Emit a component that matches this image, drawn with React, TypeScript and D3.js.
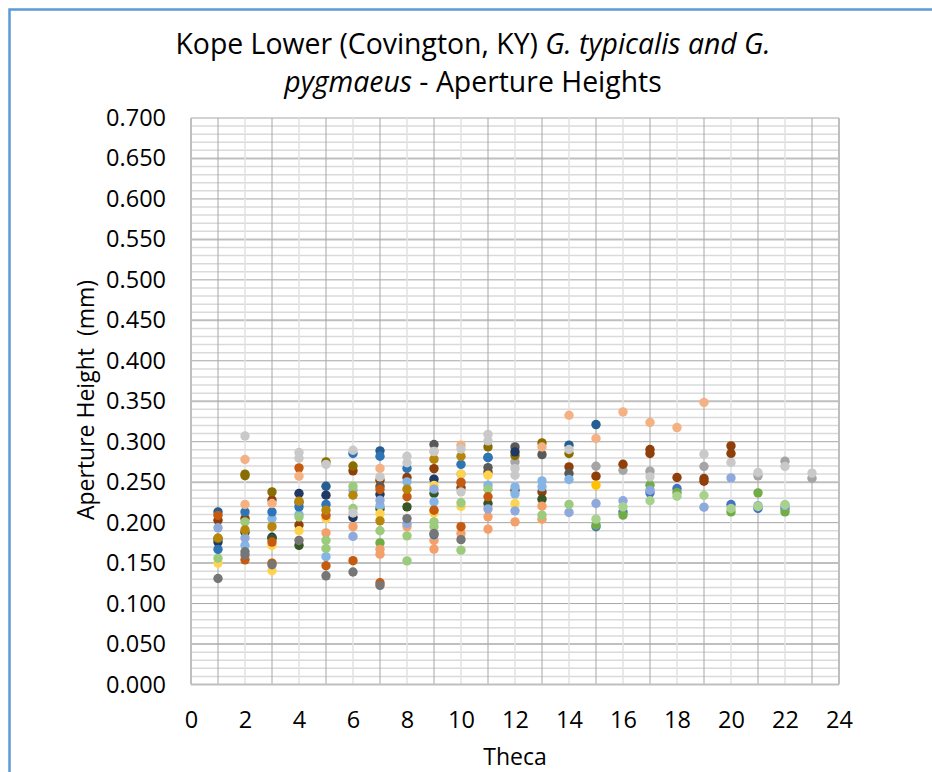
import { useEffect, useRef } from "react"
import * as d3 from "d3"

type Pt = [number, number]

// [theca, aperture height], grouped by marker colour. Paint order is seriesList order.
const royal: Pt[] = [[15,.195],[16,.2133],[17,.2368],[18,.2422],[20,.2224],[21,.2175],[22,.2175]]
const green: Pt[] = [[7,.175],[15,.197],[16,.2093],[17,.2463],[18,.2373],[20,.2133],[21,.2368],[22,.2133]]
const midGray: Pt[] = [[12,.275],[15,.2697],[16,.2648],[17,.2636],[19,.2694],[21,.2578],[22,.2759],[23,.2549]]
const deepBlue: Pt[] = [[1,.2133],[5,.245],[7,.2887],[11,.2805],[14,.2957],[15,.3212]]
const brown: Pt[] = [[1,.203],[2,.205],[3,.228],[4,.197],[6,.264],[7,.2525],[8,.2558],[9,.2668],[10,.243],[11,.2625],[12,.24],[13,.238],[14,.2689],[15,.2574],[16,.2722],[17,.2904],[17,.2854],[18,.2558],[19,.2546],[19,.2512],[20,.2948],[20,.2854]]
const darkGray: Pt[] = [[4,.225],[7,.245],[9,.2965],[11,.268],[12,.2936],[13,.284],[14,.2607]]
const darkGold: Pt[] = [[2,.26],[2,.258],[3,.238],[5,.275],[6,.27],[11,.2936],[12,.283],[13,.2985],[14,.2854]]
const navy: Pt[] = [[1,.176],[3,.182],[4,.236],[5,.234],[6,.2064],[7,.235],[9,.2537],[12,.2874]]
const darkGreen: Pt[] = [[1,.18],[2,.188],[3,.1805],[4,.172],[7,.217],[8,.2195],[9,.236],[11,.2237],[13,.229]]
const lightBlue: Pt[] = [[2,.172],[3,.205],[4,.21],[5,.158],[6,.24],[7,.221],[8,.2504],[9,.2257],[10,.26],[11,.2463],[12,.2442],[12,.2355],[13,.2516],[13,.2442],[14,.2533]]
const coral: Pt[] = [[5,.1874],[6,.195],[7,.167],[7,.161],[8,.195],[9,.178],[9,.1673],[10,.1866],[11,.2072],[11,.192],[12,.201],[13,.2204],[13,.2043]]
const yellow: Pt[] = [[1,.15],[3,.1405],[3,.172],[4,.19],[5,.205],[7,.211],[9,.246],[9,.212],[10,.26],[10,.22],[11,.2586],[12,.2237]]
const amber: Pt[] = [[15,.2463]]
const lavender: Pt[] = [[1,.1936],[2,.181],[6,.183],[7,.2277],[8,.199],[9,.2414],[10,.25],[11,.217],[12,.2146],[14,.2126],[15,.2237],[16,.227],[17,.2401],[19,.2191],[20,.2553],[21,.221],[22,.221]]
const leaf: Pt[] = [[1,.156],[2,.201],[4,.207],[5,.178],[5,.168],[6,.245],[6,.2175],[7,.19],[8,.1528],[8,.1837],[9,.201],[9,.195],[10,.2245],[10,.166],[11,.2414],[13,.2093],[14,.2225]]
const blue: Pt[] = [[1,.167],[2,.2133],[3,.2133],[4,.2195],[5,.2225],[6,.2854],[7,.282],[8,.267],[9,.185],[10,.272],[11,.2805]]
const orange: Pt[] = [[1,.209],[2,.154],[3,.176],[3,.15],[4,.2677],[5,.209],[5,.1467],[6,.153],[7,.241],[7,.1257],[8,.232],[9,.2154],[10,.2496],[10,.195],[11,.232]]
const gray: Pt[] = [[1,.131],[2,.164],[2,.16],[3,.148],[4,.178],[5,.1343],[6,.139],[7,.1225],[8,.205],[9,.1866],[10,.179]]
const gold: Pt[] = [[1,.181],[2,.191],[3,.195],[4,.2265],[5,.2154],[6,.234],[7,.2022],[8,.2414],[9,.2784],[10,.282]]
const salmon: Pt[] = [[2,.278],[2,.2225],[3,.2237],[4,.2574],[7,.267],[9,.288],[10,.2957],[13,.2935],[14,.3327],[15,.304],[16,.3368],[17,.3237],[18,.3175],[19,.3484]]
const silver: Pt[] = [[2,.307],[4,.2866],[4,.2796],[5,.272],[6,.2895],[6,.212],[7,.2566],[8,.282],[8,.274],[9,.288],[10,.291],[10,.238],[11,.309],[11,.301],[12,.2668],[12,.2586],[14,.2904],[17,.2566],[19,.2846],[20,.2743],[21,.262],[22,.2694],[23,.2611]]
const paleGreen: Pt[] = [[15,.2043],[16,.2195],[17,.227],[18,.2327],[19,.2336],[20,.2175],[21,.22],[22,.2224]]

const seriesList = [royal, green, midGray, deepBlue, brown, darkGray, darkGold, navy, darkGreen, lightBlue, coral, yellow, amber, lavender, leaf, blue, orange, gray, gold, salmon, silver, paleGreen]
const seriesColors = ["#4472C4", "#70AD47", "#A5A5A5", "#255E91", "#8F3F0A", "#595959", "#8A6D00", "#1F3864", "#375623", "#85B5E5", "#F4A06B", "#FFD34D", "#FFC000", "#8EA9DB", "#9CCB7E", "#2E75B6", "#C55A11", "#767676", "#B8860B", "#F4B183", "#C9C9C9", "#A9D18E"]

const xTicks = [0, 2, 4, 6, 8, 10, 12, 14, 16, 18, 20, 22, 24]
const yTicks = [0, 0.05, 0.1, 0.15, 0.2, 0.25, 0.3, 0.35, 0.4, 0.45, 0.5, 0.55, 0.6, 0.65, 0.7]

const FONT = "'Open Sans', sans-serif"

export default function App() {
  const svgRef = useRef<SVGSVGElement>(null)

  useEffect(() => {
    if (!svgRef.current) return
    const svg = d3.select(svgRef.current)
    svg.selectAll("*").remove()

    const xScale = d3.scaleLinear().domain([0, 24]).range([191, 839])
    const yScale = d3.scaleLinear().domain([0, 0.7]).range([684.5, 118])

    // Chart frame, cut off by the screenshot on the right and bottom
    svg.append("path")
      .attr("d", "M9.5,772V9.5H932")
      .attr("fill", "none")
      .attr("stroke", "#5B9BD5")
      .attr("stroke-width", 2.5)

    // Minor grid
    const grid = svg.append("g")
    d3.range(0, 71).forEach((i) => {
      const major = i % 10 === 0
      const mid = i % 5 === 0 && !major
      grid.append("line")
        .attr("x1", xScale(0))
        .attr("x2", xScale(24))
        .attr("y1", yScale(i / 100))
        .attr("y2", yScale(i / 100))
        .attr("stroke", major ? "#A6A6A6" : mid ? "#BFBFBF" : "#DADADA")
        .attr("stroke-width", major ? 1 : mid ? 2 : 1.5)
    })
    d3.range(0, 25).forEach((i) => {
      grid.append("line")
        .attr("x1", xScale(i))
        .attr("x2", xScale(i))
        .attr("y1", yScale(0))
        .attr("y2", yScale(0.7))
        .attr("stroke", i % 2 === 1 ? "#A6A6A6" : i === 0 || i === 24 ? "#BFBFBF" : "#E2E2E2")
        .attr("stroke-width", i % 2 === 1 ? 1 : i === 0 || i === 24 ? 2 : 1.5)
    })
    svg.append("line")
      .attr("x1", xScale(0))
      .attr("x2", xScale(24))
      .attr("y1", yScale(0))
      .attr("y2", yScale(0))
      .attr("stroke", "#BFBFBF")
      .attr("stroke-width", 2)

    // Points
    seriesList.forEach((points, i) => {
      svg.append("g")
        .selectAll("circle")
        .data(points)
        .enter()
        .append("circle")
        .attr("cx", (d) => xScale(d[0]))
        .attr("cy", (d) => yScale(d[1]))
        .attr("r", 4.7)
        .attr("fill", seriesColors[i])
    })

    // Axes
    const xAxis = d3.axisBottom(xScale).tickValues(xTicks).tickSize(0).tickPadding(27).tickFormat(d3.format("d") as any)
    const yAxis = d3.axisLeft(yScale).tickValues(yTicks).tickSize(0).tickPadding(25).tickFormat(d3.format(".3f") as any)
    const gx = svg.append("g").attr("transform", "translate(0,684.5)").call(xAxis)
    const gy = svg.append("g").attr("transform", "translate(191,0)").call(yAxis)
    for (const g of [gx, gy]) {
      g.select(".domain").remove()
      g.selectAll("text").attr("font-family", FONT).attr("font-size", 23.5).attr("fill", "#000")
    }

    // Axis titles
    svg.append("text")
      .attr("x", 515)
      .attr("y", 765)
      .attr("text-anchor", "middle")
      .attr("font-family", FONT)
      .attr("font-size", 23)
      .text("Theca")
    svg.append("text")
      .attr("transform", "translate(94,400) rotate(-90)")
      .attr("text-anchor", "middle")
      .attr("font-family", FONT)
      .attr("font-size", 23)
      .attr("xml:space", "preserve")
      .style("white-space", "pre")
      .text("Aperture Height  (mm)")

    // Title
    const title = svg.append("text")
      .attr("text-anchor", "middle")
      .attr("font-family", FONT)
      .attr("font-size", 28.4)
      .attr("fill", "#000")
    const line1 = title.append("tspan").attr("x", 473).attr("y", 54)
    line1.append("tspan").text("Kope Lower (Covington, KY) ")
    line1.append("tspan").attr("font-style", "italic").text("G. typicalis and G.")
    const line2 = title.append("tspan").attr("x", 473).attr("y", 92)
    line2.append("tspan").attr("font-style", "italic").text("pygmaeus")
    line2.append("tspan").text(" - Aperture Heights")
  }, [])

  return (
    <svg
      ref={svgRef}
      width={932}
      height={772}
      style={{ position: "absolute", left: 0, top: 0, display: "block", background: "#fff" }}
    />
  )
}
